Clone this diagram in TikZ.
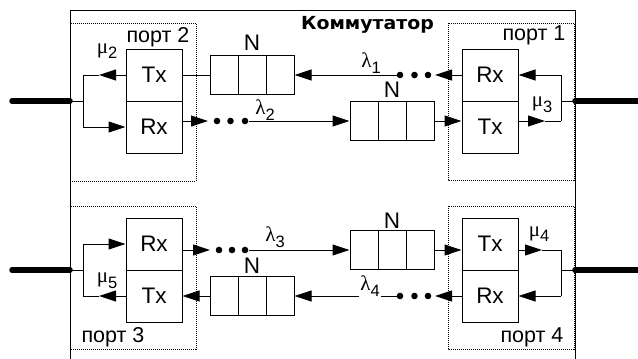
\documentclass[tikz,border=0pt]{standalone}
\usepackage{fontspec}
\setmainfont{Liberation Sans}
\newfontfamily\grk{Liberation Serif}
\newfontfamily\ttl{DejaVu Sans}
\usetikzlibrary{arrows.meta}
\newcommand\gsub[2]{{\grk\fontsize{21}{21}\selectfont #1}\raisebox{-5.5pt}{\fontsize{16.5}{16.5}\selectfont #2}}
\begin{document}
\begin{tikzpicture}[x=1pt,y=-1pt,
  every node/.style={inner sep=0pt},
  ln/.style={line width=1pt},
  box/.style={draw, line width=1pt, minimum width=56pt, minimum height=52pt, font=\fontsize{22.5}{22.5}\selectfont},
  queue/.style={draw, line width=1pt, minimum width=84pt, minimum height=39pt,
    path picture={
      \draw[line width=1pt] ([xshift=28pt]path picture bounding box.north west) -- ([xshift=28pt]path picture bounding box.south west);
      \draw[line width=1pt] ([xshift=-28pt]path picture bounding box.north east) -- ([xshift=-28pt]path picture bounding box.south east);}},
  arr/.style={line width=1pt, -{Triangle[length=17pt,width=11pt]}},
  portbox/.style={line width=0.9pt, dash pattern=on 1pt off 1pt},
  heavy/.style={line width=5.5pt, line cap=round},
  dot/.style={circle, fill, minimum size=6.6pt},
  lbl/.style={font=\fontsize{22.5}{22.5}\selectfont},
  plbl/.style={font=\fontsize{21.5}{21.5}\selectfont, anchor=base},
]
\useasboundingbox (0,0) rectangle (638,359);
\fill[white] (0,0) rectangle (638,359);

% port boxes (dotted)
\draw[portbox] (70,23) rectangle (196,181);
\draw[portbox] (448,23) rectangle (574,180);
\draw[portbox] (70,206) rectangle (196,349);
\draw[portbox] (448,206) rectangle (574,349);

% outer frame
\draw[ln] (70,360) -- (70,10) -- (575,10) -- (575,360);
\node (title) at (367.5,25) {\scalebox{1.05}[1]{\ttl\bfseries\fontsize{18}{18}\selectfont Коммутатор}};

% port labels
\node[plbl] (p2) at (158,42) {порт 2};
\node[plbl] (p1) at (534,40) {порт 1};
\node[plbl] (p3) at (113,342) {порт 3};
\node[plbl] (p4) at (532,342) {порт 4};

% Tx/Rx boxes
\node[box] (tx2) at (154,75) {Tx};
\node[box] (rx2) at (154,127) {Rx};
\node[box] (rx1) at (490,75) {Rx};
\node[box] (tx1) at (490,127) {Tx};
\node[box] (rx3) at (154,244) {Rx};
\node[box] (tx3) at (154,296) {Tx};
\node[box] (tx4) at (490,244) {Tx};
\node[box] (rx4) at (490,296) {Rx};

% queues
\node[queue] (q1) at (252,75) {};
\node[queue] (q2) at (392,121) {};
\node[queue] (q3) at (392,250) {};
\node[queue] (q4) at (252,296) {};
\node[lbl, anchor=base] (n1) at ([yshift=5pt]q1.north) {N};
\node[lbl, anchor=base] (n2) at ([yshift=4pt]q2.north) {N};
\node[lbl, anchor=base] (n3) at ([yshift=2pt]q3.north) {N};
\node[lbl, anchor=base] (n4) at ([yshift=3pt]q4.north) {N};

% dots
\node[dot] (d1a) at (400,75) {};
\node[dot] (d1b) at (414.5,75) {};
\node[dot] (d1c) at (428,75) {};
\node[dot] (d2a) at (217,121) {};
\node[dot] (d2b) at (230.5,121) {};
\node[dot] (d2c) at (245,121) {};
\node[dot] (d3a) at (219,250) {};
\node[dot] (d3b) at (232,250) {};
\node[dot] (d3c) at (245,250) {};
\node[dot] (d4a) at (400,296) {};
\node[dot] (d4b) at (414.5,296) {};
\node[dot] (d4c) at (428,296) {};

% coordinates
\coordinate (e2) at (12,101);  \coordinate (j2) at (70,101);
\coordinate (b2) at (83,101);  \coordinate (b2t) at (83,75);
\coordinate (b2b) at (83,127); \coordinate (a2) at (99,75);
\coordinate (e1) at (642,101); \coordinate (j1) at (575,101);
\coordinate (b1) at (561,101); \coordinate (b1t) at (561,75);
\coordinate (b1b) at (561,121); \coordinate (a1) at (545,121);
\coordinate (e3) at (12,270);  \coordinate (j3) at (70,270);
\coordinate (b3) at (83,270);  \coordinate (b3t) at (83,244);
\coordinate (b3b) at (83,296); \coordinate (a3) at (99,296);
\coordinate (e4) at (642,270); \coordinate (j4) at (575,270);
\coordinate (b4) at (561,270); \coordinate (b4t) at (561,250);
\coordinate (b4b) at (561,296); \coordinate (a4) at (542,250);
\coordinate (t1) at (435,75);  \coordinate (t2) at (208,121);
\coordinate (t3) at (210,250); \coordinate (t4) at (435,296);

% port 2
\draw[heavy] (e2) -- (j2);
\draw[ln] (j2) -- (b2);
\draw[ln] (b2t) -- (b2b);
\draw[arr] (tx2.west) -- (a2);
\draw[ln] (a2) -- (b2t);
\draw[arr] (b2b) -- (rx2.west);
\draw[ln] (tx2.east) -- (q1.west);

% row 1 (lambda 1)
\draw[arr] (rx1.west) -- (t1);
\draw[arr] (d1a) -- (q1.east);

% port 1
\draw[heavy] (j1) -- (e1);
\draw[ln] (j1) -- (b1);
\draw[ln] (b1t) -- (b1b);
\draw[arr] (b1t) -- (rx1.east);
\draw[arr] (tx1.east |- a1) -- (a1);
\draw[ln] (a1) -- (b1b);

% row 2 (lambda 2)
\draw[arr] (rx2.east |- q2.west) -- (t2);
\draw[arr] (d2c) -- (q2.west);
\draw[arr] (q2.east) -- (tx1.west |- q2.east);

% port 3
\draw[heavy] (e3) -- (j3);
\draw[ln] (j3) -- (b3);
\draw[ln] (b3t) -- (b3b);
\draw[arr] (b3t) -- (rx3.west);
\draw[arr] (tx3.west) -- (a3);
\draw[ln] (a3) -- (b3b);

% row 3 (lambda 3)
\draw[arr] (rx3.east |- q3.west) -- (t3);
\draw[arr] (d3c) -- (q3.west);
\draw[arr] (q3.east) -- (tx4.west |- q3.east);

% port 4
\draw[heavy] (j4) -- (e4);
\draw[ln] (j4) -- (b4);
\draw[arr] (tx4.east |- q3.east) -- (a4);
\draw[ln] (a4) -- (b4t);
\draw[ln] (b4t) -- (b4b);
\draw[arr] (b4b) -- (rx4.east);

% row 4 (lambda 4)
\draw[arr] (rx4.west) -- (t4);
\draw[arr] (d4a) -- (q4.east);
\draw[arr] (q4.west) -- (tx3.east);

% greek labels
\node (l1) at (371,63) {\gsub{λ}{1}};
\node (l2) at (265,110) {\gsub{λ}{2}};
\node (l3) at (275,237) {\gsub{λ}{3}};
\node[fill=white, inner sep=1pt] (l4) at (370,286) {\gsub{λ}{4}};
\node (m2) at (107,51) {\gsub{μ}{2}};
\node (m3) at (542,105) {\gsub{μ}{3}};
\node (m4) at (539,234) {\gsub{μ}{4}};
\node (m5) at (107,281) {\gsub{μ}{5}};
\end{tikzpicture}
\end{document}
